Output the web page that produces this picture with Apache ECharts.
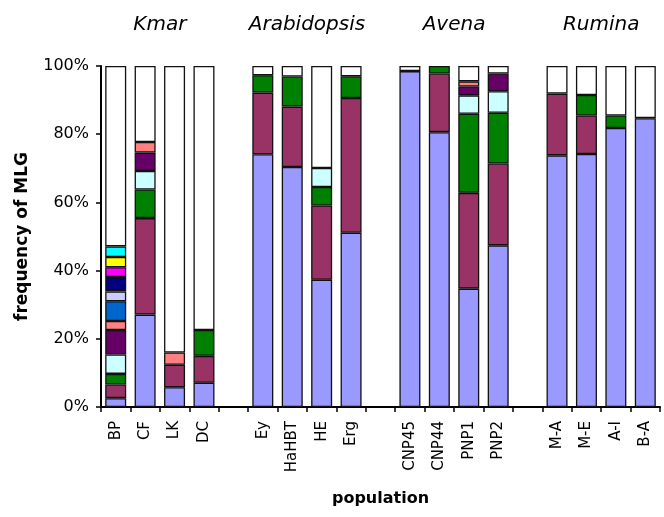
<!DOCTYPE html>
<html>
<head>
<meta charset="utf-8">
<script src="https://cdn.jsdelivr.net/npm/echarts@6/dist/echarts.min.js"></script>
<style>html,body{margin:0;padding:0;background:#fff}#c{width:664px;height:517px}</style>
</head>
<body>
<div id="c"></div>
<script>
const categories = ['BP','CF','LK','DC',' ','Ey','HaHBT','HE','Erg','  ','CNP45','CNP44','PNP1','PNP2','   ','M-A','M-E','A-I','B-A'];
const groupNames = ['Kmar','Arabidopsis','Avena','Rumina'];
const groupSpans = [['BP','DC'],['Ey','Erg'],['CNP45','PNP2'],['M-A','B-A']];
const yTicks = [0,20,40,60,80,100];

const periwinkle = [2.6,27.1,5.8,7.1,null,74.1,70.4,37.3,51.1,null,98.5,80.6,34.7,47.4,null,73.8,74.2,81.8,84.7];
const maroon     = [4.0,28.3,6.6,7.9,null,18.1,17.7,21.8,39.5,null,0,17.2,28.1,24.0,null,18.1,11.3,0,0];
const green      = [3.1,8.4,0,7.6,null,5.1,8.8,5.4,6.4,null,0,2.2,23.2,14.9,null,0,6.0,3.7,0];
const lightCyan  = [5.7,5.4,0,0,null,0,0,5.6,0,null,0,0,5.4,6.3,null,0,0,0,0];
const purple     = [7.2,5.4,0,0,null,0,0,0,0,null,0,0,2.6,5.2,null,0,0,0,0];
const salmon     = [2.6,3.1,3.6,0,null,0,0,0,0,null,0,0,1.5,0,null,0,0,0,0];
const blue       = [5.8,0,0,0,null,0,0,0,0,null,0,0,0,0,null,0,0,0,0];
const lavender   = [2.9,0,0,0,null,0,0,0,0,null,0,0,0,0,null,0,0,0,0];
const navy       = [4.2,0,0,0,null,0,0,0,0,null,0,0,0,0,null,0,0,0,0];
const magenta    = [2.9,0,0,0,null,0,0,0,0,null,0,0,0,0,null,0,0,0,0];
const yellow     = [3.0,0,0,0,null,0,0,0,0,null,0,0,0,0,null,0,0,0,0];
const cyan       = [3.1,0,0,0,null,0,0,0,0,null,0,0,0,0,null,0,0,0,0];
const white      = [52.9,22.3,84.0,77.4,null,2.7,3.1,29.9,3.0,null,1.5,0,4.5,2.2,null,8.1,8.5,14.5,15.3];

const seriesDefs = [
  [periwinkle,'#9999ff'],[maroon,'#993366'],[green,'#008000'],[lightCyan,'#ccffff'],
  [purple,'#660066'],[salmon,'#ff8080'],[blue,'#0066cc'],[lavender,'#ccccff'],
  [navy,'#000080'],[magenta,'#ff00ff'],[yellow,'#ffff00'],[cyan,'#00ffff'],[white,'#ffffff']
];

const FONT = '"Comic Sans MS","DejaVu Sans",sans-serif';
const chart = echarts.init(document.getElementById('c'), null, {renderer:'canvas'});
chart.setOption({
  animation:false,
  backgroundColor:'#fff',
  grid:{left:101,right:4,top:66,bottom:110},
  xAxis:{
    type:'category', data:categories,
    name:'population', nameLocation:'middle', nameGap:84,
    nameTextStyle:{fontFamily:FONT,fontWeight:'bold',fontSize:16,color:'#000'},
    axisLine:{lineStyle:{color:'#000',width:2}},
    axisTick:{show:true,length:5,lineStyle:{color:'#000',width:1.5}},
    axisLabel:{interval:0,rotate:90,margin:14,fontFamily:FONT,fontSize:15,color:'#000'}
  },
  yAxis:{
    type:'value', min:0, max:100, interval:20,
    name:'frequency of MLG', nameLocation:'middle', nameGap:70,
    nameTextStyle:{fontFamily:FONT,fontWeight:'bold',fontSize:17,color:'#000'},
    axisLine:{show:true,lineStyle:{color:'#000',width:2}},
    axisTick:{show:true,length:5,lineStyle:{color:'#000',width:1.5}},
    splitLine:{show:false},
    axisLabel:{margin:12,fontFamily:FONT,fontSize:16,color:'#000',
      formatter:function(v){return yTicks.indexOf(v)>=0? v+'%':'';}}
  },
  series: seriesDefs.map(function(d){
    return {
      type:'bar', stack:'mlg', barWidth:21,
      data:d[0].map(function(v){return v?v:null;}),
      itemStyle:{color:d[1],borderColor:'#111',borderWidth:1.3}
    };
  })
});

const graphics = groupNames.map(function(name,i){
  const a = categories.indexOf(groupSpans[i][0]);
  const b = categories.indexOf(groupSpans[i][1]);
  const xa = chart.convertToPixel({xAxisIndex:0}, a);
  const xb = chart.convertToPixel({xAxisIndex:0}, b);
  return {type:'text', x:(xa+xb)/2, y:25,
    style:{text:name, fill:'#000', font:'italic 20px "Comic Sans MS","DejaVu Sans",sans-serif',
      textAlign:'center', textVerticalAlign:'middle'}};
});
chart.setOption({graphic:graphics});
</script>
</body>
</html>
